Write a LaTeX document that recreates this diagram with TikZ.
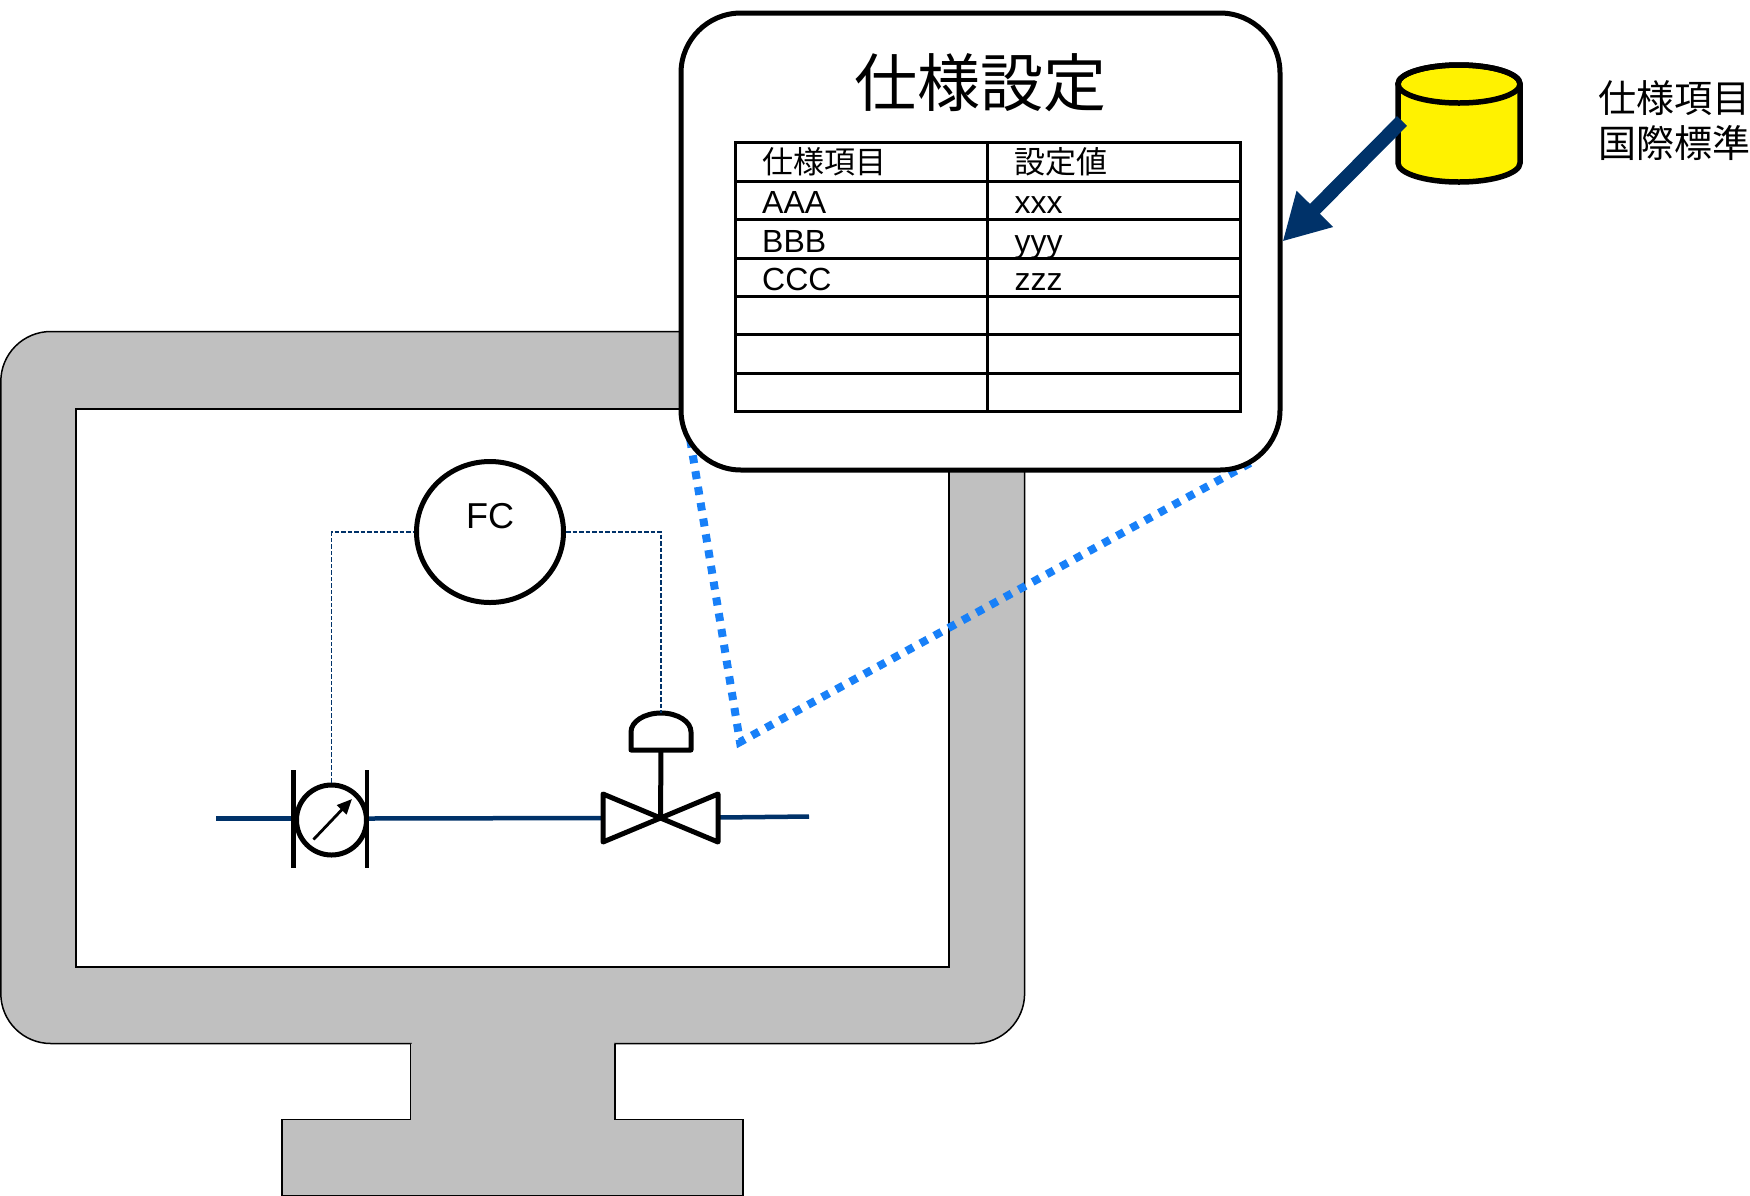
\documentclass[tikz,border=0pt]{standalone}
\usepackage{fontspec}
\setmainfont{Liberation Sans}
\newfontfamily\jp{Noto Sans CJK JP}
\usetikzlibrary{arrows.meta,shapes.geometric}

\definecolor{monitorgrey}{RGB}{192,192,192}
\definecolor{navy}{RGB}{0,50,105}
\definecolor{linkblue}{RGB}{24,128,248}

\begin{document}
\begin{tikzpicture}[x=1pt,y=-1pt,
  outline/.style={draw=black,line width=1.5pt},
  pipe/.style={draw=navy,line width=4.5pt},
  signal/.style={draw=navy,line width=1.8pt,dash pattern=on 4.5pt off 2pt},
  symbol/.style={draw=black,line width=5pt,line join=round},
  zoomline/.style={draw=linkblue,line width=8pt,dash pattern=on 8pt off 8pt},
  grid/.style={draw=black,line width=3pt},
  cell/.style={anchor=base west,inner sep=0pt,font=\fontsize{32}{32}\selectfont},
  jpcell/.style={anchor=base west,inner sep=0pt,font=\jp\fontsize{31}{31}\selectfont},
]
\useasboundingbox (0,0) rectangle (1750,1195);
\clip (0,0) rectangle (1750,1195);

% ---- monitor ----
\draw[outline,fill=monitorgrey,rounded corners=50pt] (0.8,331.5) rectangle (1024.6,1043.5);
\draw[outline,fill=monitorgrey] (410.7,1043.5) -- (410.7,1119.5) -- (282,1119.5) -- (282,1196)
  -- (743,1196) -- (743,1119.5) -- (615,1119.5) -- (615,1043.5);
\fill[monitorgrey] (411.6,1040) rectangle (614.1,1047);
\draw[draw=black,line width=2pt,fill=white] (76,408.5) rectangle (948.7,966.5);

% ---- process line ----
\coordinate (pipeIn) at (216,818.5);
\coordinate (meterL) at (293.5,818.5);
\coordinate (meterR) at (367,818.5);
\coordinate (valveL) at (603,818);
\coordinate (valveR) at (718,817.5);
\coordinate (pipeOut) at (809,816.5);
\coordinate (valve) at (660.5,818);
\coordinate (actB) at (661,750);
\coordinate (actTop) at (661,713);

\draw[pipe] (pipeIn) -- (meterL);
\draw[pipe] (meterR) -- (valveL);
\draw[pipe] (valveR) -- (pipeOut);

% flow meter
\node[draw=black,line width=5pt,circle,minimum size=70pt,inner sep=0pt,fill=white] (meter) at (331.5,820) {};
\draw[line width=4.5pt] (293.5,770) -- (293.5,868);
\draw[line width=4.5pt] (367,770) -- (367,868);
\draw[line width=2.8pt,-{Triangle[length=15pt,width=13pt]}] (313.5,839.5) -- (352,799);

% control valve
\draw[symbol] (603,794) -- (603,842) -- (718,794) -- (718,842) -- cycle;
\draw[symbol] (valve) -- (actB);
\draw[symbol] (631,750) -- (631,732) arc[start angle=180,end angle=0,x radius=30pt,y radius=19pt]
  -- (691,750) -- cycle;

% flow controller
\node[draw=black,line width=5pt,ellipse,minimum width=147pt,minimum height=141pt,inner sep=0pt] (fc) at (490,532) {};
\node[font=\fontsize{36}{36}\selectfont,inner sep=0pt] (fclabel) at (490,516) {FC};
\draw[signal] (meter.north) |- (fc.west);
\draw[signal] (fc.east) -| (actTop);

% ---- zoom guide ----
\coordinate (zA) at (685,408);
\coordinate (zB) at (740,742);
\coordinate (zC) at (1252,462);
\draw[zoomline] (zA) -- (zB) -- (zC);

% ---- settings window ----
\node[draw=black,line width=5pt,fill=white,rounded corners=60pt,minimum width=599pt,
  minimum height=457pt,inner sep=0pt] (popup) at (980.5,241.5) {};
\node[font=\jp\fontsize{63}{63}\selectfont] (title) at (980,83) {仕様設定};

\draw[grid] (735.5,142.9) rectangle (1240,411.8);
\foreach \k in {1,...,6}
  \draw[grid] (735.5,{142.9+38.41*\k}) -- (1240,{142.9+38.41*\k});
\draw[grid] (987.8,142.9) -- (987.8,411.8);

\node[jpcell] (h1) at (762,173.5) {仕様項目};
\node[jpcell] (h2) at (1014.5,173.5) {設定値};
\node[cell] (a1) at (762,213.7) {AAA};
\node[cell] (a2) at (1014.5,213.7) {xxx};
\node[cell] (b1) at (762,252.1) {BBB};
\node[cell] (b2) at (1014.5,252.1) {yyy};
\node[cell] (c1) at (762,290.5) {CCC};
\node[cell] (c2) at (1014.5,290.5) {zzz};

% ---- standards database ----
\draw[line width=5.5pt,fill=yellow] (1398,84) -- (1398,163)
  arc[start angle=180,end angle=360,x radius=61pt,y radius=19pt] -- (1520,84)
  arc[start angle=0,end angle=180,x radius=61pt,y radius=19pt] -- cycle;
\draw[line width=5.5pt] (1459,84) ellipse[x radius=61pt,y radius=19pt];
\coordinate (dbW) at (1402,121);
\draw[draw=navy,line width=14pt,-{Triangle[length=46pt,width=48pt]}] (dbW) -- (popup.east);

\node[font=\jp\fontsize{38}{38}\selectfont,anchor=base west,inner sep=0pt] (spec1) at (1598,112) {仕様項目};
\node[font=\jp\fontsize{38}{38}\selectfont,anchor=base west,inner sep=0pt] (spec2) at (1598,157) {国際標準};
\end{tikzpicture}
\end{document}
